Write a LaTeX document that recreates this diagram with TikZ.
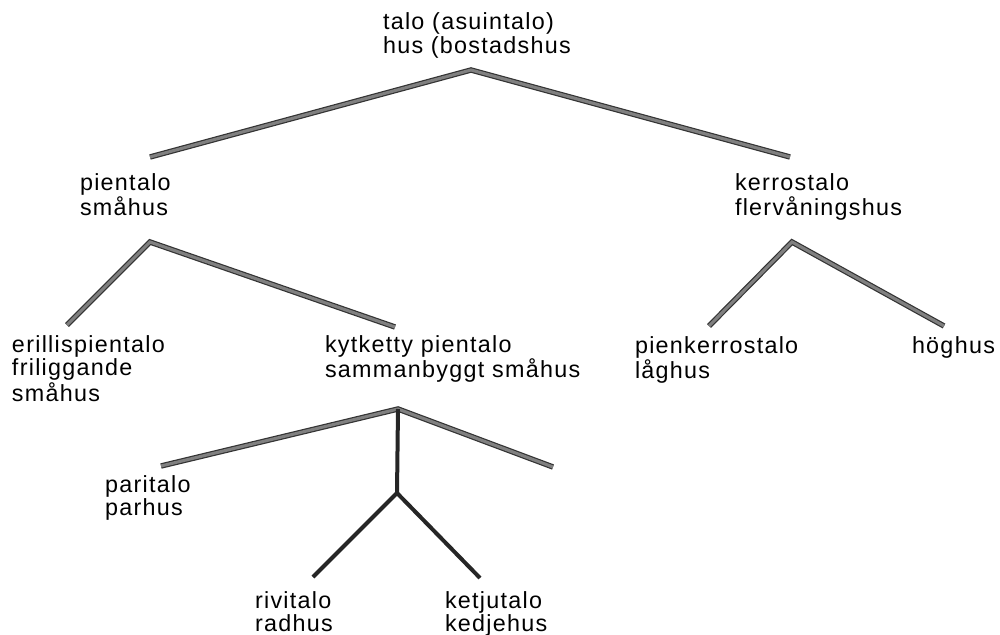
\documentclass[tikz,border=0pt]{standalone}
\usepackage{fontspec}
\setmainfont{Liberation Sans}[LetterSpace=5.5]
\begin{document}
\begin{tikzpicture}[x=0.75pt,y=-0.75pt,
  lbl/.style={anchor=base west,inner sep=0pt,outer sep=0pt,
    font=\fontsize{17.5}{17.4}\selectfont},
  bar/.style={draw=black!80,line width=0.9pt,double=black!50,double distance=2.3pt,line join=miter},
  darkbar/.style={draw=black!85,line width=3pt,line join=miter}]
\useasboundingbox (0,0) rectangle (1000,635);
% text nodes
\node[lbl] (talo) at (383,30) {\begin{tabular}[t]{@{}l@{}}talo (asuintalo)\\hus (bostadshus\end{tabular}};
\node[lbl] (pien) at (80,190) {\begin{tabular}[t]{@{}l@{}}pientalo\\småhus\end{tabular}};
\node[lbl] (kerro) at (735,190) {\begin{tabular}[t]{@{}l@{}}kerrostalo\\flervåningshus\end{tabular}};
\node[lbl] (eril) at (12,352) {\begin{tabular}[t]{@{}l@{}}erillispientalo\\friliggande\\småhus\end{tabular}};
\node[lbl] (kytk) at (325,352) {\begin{tabular}[t]{@{}l@{}}kytketty pientalo\\sammanbyggt småhus\end{tabular}};
\node[lbl] (pker) at (635,353) {\begin{tabular}[t]{@{}l@{}}pienkerrostalo\\låghus\end{tabular}};
\node[lbl] (hog) at (912,353) {höghus};
\node[lbl] (pari) at (105,492) {\begin{tabular}[t]{@{}l@{}}paritalo\\parhus\end{tabular}};
\node[lbl] (rivi) at (255,608) {\begin{tabular}[t]{@{}l@{}}rivitalo\\radhus\end{tabular}};
\node[lbl] (ketju) at (445,608) {\begin{tabular}[t]{@{}l@{}}ketjutalo\\kedjehus\end{tabular}};
% connector points
\coordinate (a0) at (471,70);
\coordinate (l0) at (150,157);
\coordinate (r0) at (790,157);
\coordinate (a1) at (150,242);
\coordinate (l1) at (67,325);
\coordinate (r1) at (395,327);
\coordinate (a2) at (792,242);
\coordinate (l2) at (709,326);
\coordinate (r2) at (944,326);
\coordinate (a3) at (398,409);
\coordinate (l3) at (161,466);
\coordinate (r3) at (553,467);
\coordinate (a4) at (397,493);
\coordinate (l4) at (313,577);
\coordinate (r4) at (480,578);
% connectors
\draw[bar] (l0) -- (a0) -- (r0);
\draw[bar] (l1) -- (a1) -- (r1);
\draw[bar] (l2) -- (a2) -- (r2);
\draw[bar] (l3) -- (a3) -- (r3);
\draw[darkbar] (a3) -- (a4);
\draw[darkbar] (l4) -- (a4) -- (r4);
\end{tikzpicture}
\end{document}
